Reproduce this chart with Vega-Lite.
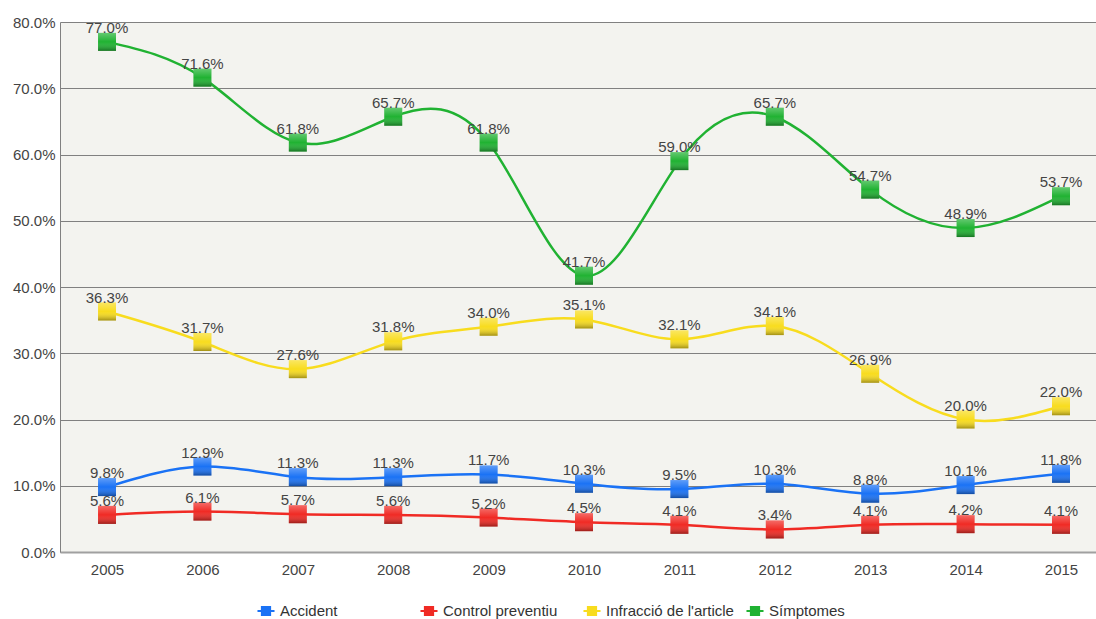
{
  "$schema": "https://vega.github.io/schema/vega-lite/v6.json",
  "width": 1036,
  "height": 530,
  "autosize": {"type": "none"},
  "padding": {"left": 60, "top": 22, "right": 0, "bottom": 67},
  "background": "white",
  "config": {
    "view": {"fill": "#f3f3ef", "stroke": null},
    "font": "Liberation Sans"
  },
  "data": {
    "values": [
      {"year": 2005, "series": "Accident", "value": 0.098},
      {"year": 2006, "series": "Accident", "value": 0.129},
      {"year": 2007, "series": "Accident", "value": 0.113},
      {"year": 2008, "series": "Accident", "value": 0.113},
      {"year": 2009, "series": "Accident", "value": 0.117},
      {"year": 2010, "series": "Accident", "value": 0.103},
      {"year": 2011, "series": "Accident", "value": 0.095},
      {"year": 2012, "series": "Accident", "value": 0.103},
      {"year": 2013, "series": "Accident", "value": 0.088},
      {"year": 2014, "series": "Accident", "value": 0.101},
      {"year": 2015, "series": "Accident", "value": 0.118},
      {"year": 2005, "series": "Control preventiu", "value": 0.056},
      {"year": 2006, "series": "Control preventiu", "value": 0.061},
      {"year": 2007, "series": "Control preventiu", "value": 0.057},
      {"year": 2008, "series": "Control preventiu", "value": 0.056},
      {"year": 2009, "series": "Control preventiu", "value": 0.052},
      {"year": 2010, "series": "Control preventiu", "value": 0.045},
      {"year": 2011, "series": "Control preventiu", "value": 0.041},
      {"year": 2012, "series": "Control preventiu", "value": 0.034},
      {"year": 2013, "series": "Control preventiu", "value": 0.041},
      {"year": 2014, "series": "Control preventiu", "value": 0.042},
      {"year": 2015, "series": "Control preventiu", "value": 0.041},
      {"year": 2005, "series": "Infracció de l'article", "value": 0.363},
      {"year": 2006, "series": "Infracció de l'article", "value": 0.317},
      {"year": 2007, "series": "Infracció de l'article", "value": 0.276},
      {"year": 2008, "series": "Infracció de l'article", "value": 0.318},
      {"year": 2009, "series": "Infracció de l'article", "value": 0.340},
      {"year": 2010, "series": "Infracció de l'article", "value": 0.351},
      {"year": 2011, "series": "Infracció de l'article", "value": 0.321},
      {"year": 2012, "series": "Infracció de l'article", "value": 0.341},
      {"year": 2013, "series": "Infracció de l'article", "value": 0.269},
      {"year": 2014, "series": "Infracció de l'article", "value": 0.200},
      {"year": 2015, "series": "Infracció de l'article", "value": 0.220},
      {"year": 2005, "series": "Símptomes", "value": 0.770},
      {"year": 2006, "series": "Símptomes", "value": 0.716},
      {"year": 2007, "series": "Símptomes", "value": 0.618},
      {"year": 2008, "series": "Símptomes", "value": 0.657},
      {"year": 2009, "series": "Símptomes", "value": 0.618},
      {"year": 2010, "series": "Símptomes", "value": 0.417},
      {"year": 2011, "series": "Símptomes", "value": 0.590},
      {"year": 2012, "series": "Símptomes", "value": 0.657},
      {"year": 2013, "series": "Símptomes", "value": 0.547},
      {"year": 2014, "series": "Símptomes", "value": 0.489},
      {"year": 2015, "series": "Símptomes", "value": 0.537}
    ]
  },
  "encoding": {
    "x": {
      "field": "year",
      "type": "quantitative",
      "scale": {"domain": [2004.507, 2015.367], "nice": false, "zero": false},
      "axis": {
        "title": null,
        "values": [2005, 2006, 2007, 2008, 2009, 2010, 2011, 2012, 2013, 2014, 2015],
        "format": "d",
        "grid": false,
        "ticks": false,
        "domain": true,
        "domainColor": "#a0a0a0",
        "domainWidth": 2,
        "labelFontSize": 15,
        "labelColor": "#444444",
        "labelPadding": 10,
        "labelFlush": false
      }
    },
    "y": {
      "field": "value",
      "type": "quantitative",
      "scale": {"domain": [0, 0.8], "nice": false},
      "axis": {
        "title": null,
        "values": [0, 0.1, 0.2, 0.3, 0.4, 0.5, 0.6, 0.7, 0.8],
        "format": ".1%",
        "grid": true,
        "gridColor": "#808080",
        "gridWidth": 1,
        "ticks": false,
        "domain": true,
        "domainColor": "#808080",
        "labelFontSize": 15,
        "labelColor": "#444444",
        "labelPadding": 5,
        "labelFlush": false
      }
    }
  },
  "layer": [
    {
      "mark": {"type": "line", "interpolate": "natural", "strokeWidth": 2.5},
      "encoding": {
        "color": {
          "field": "series",
          "type": "nominal",
          "scale": {
            "domain": ["Accident", "Control preventiu", "Infracció de l'article", "Símptomes"],
            "range": ["#1a72f5", "#f02a24", "#f8dc1e", "#20b232"]
          },
          "legend": {
            "title": null,
            "orient": "none",
            "legendX": 197,
            "legendY": 580,
            "direction": "horizontal",
            "columns": 4,
            "gridAlign": "all",
            "columnPadding": 12,
            "symbolType": "M-1,-0.12L-0.6,-0.12L-0.6,-0.6L0.6,-0.6L0.6,-0.12L1,-0.12L1,0.12L0.6,0.12L0.6,0.6L-0.6,0.6L-0.6,0.12L-1,0.12Z",
            "symbolSize": 290,
            "symbolStrokeWidth": 0,
            "symbolOpacity": 1,
            "labelFontSize": 15,
            "labelColor": "#333333",
            "labelOffset": 5
          }
        }
      }
    },
    {
      "mark": {"type": "point", "shape": "square", "filled": true, "size": 324, "opacity": 1},
      "encoding": {
        "color": {"field": "series", "type": "nominal", "legend": null}
      }
    },
    {
      "mark": {
        "type": "point",
        "shape": "square",
        "filled": true,
        "size": 324,
        "opacity": 1,
        "fill": {
          "gradient": "linear",
          "x1": 0, "y1": 0, "x2": 0, "y2": 1,
          "stops": [
            {"offset": 0, "color": "rgba(255,255,255,0.3)"},
            {"offset": 0.5, "color": "rgba(255,255,255,0)"},
            {"offset": 1, "color": "rgba(0,0,0,0.35)"}
          ]
        }
      }
    },
    {
      "mark": {"type": "text", "dy": -14, "fontSize": 15, "color": "#444444"},
      "encoding": {"text": {"field": "value", "type": "quantitative", "format": ".1%"}}
    }
  ]
}
